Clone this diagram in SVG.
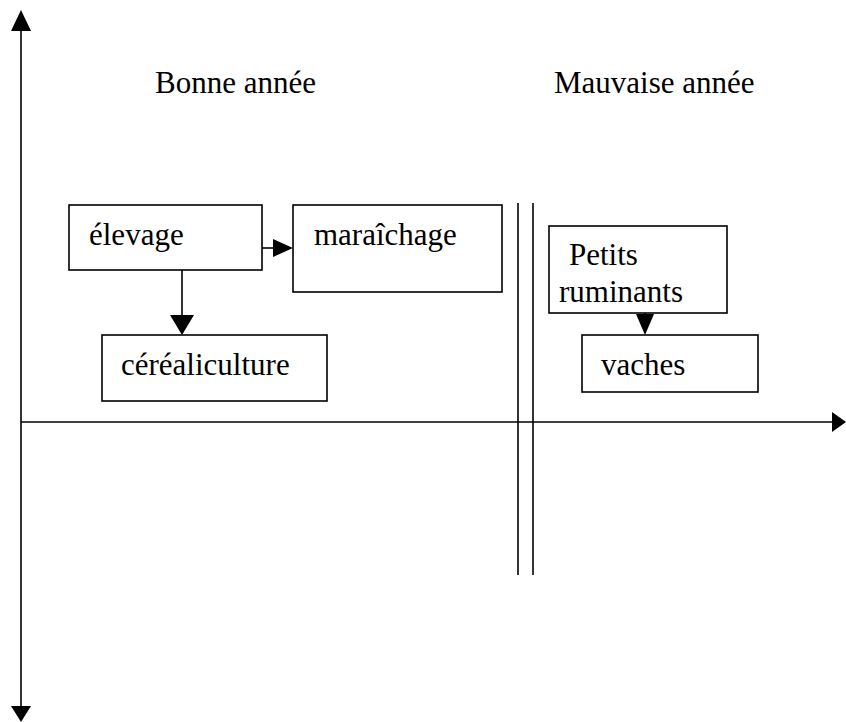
<svg xmlns="http://www.w3.org/2000/svg" width="846" height="722" viewBox="0 0 846 722">
<style>
.box{fill:#fff;stroke:#000;stroke-width:1.6}
.ln{stroke:#000;stroke-width:1.6;fill:none}
.ah{fill:#000}
text{font-family:"Liberation Serif","Times New Roman",serif;font-size:31px;fill:#000}
</style>
<rect width="846" height="722" fill="#fff"/>
<g id="axes">
<line class="ln" x1="21" y1="28" x2="21" y2="708"/>
<polygon class="ah" points="21,10 11,31 31,31"/>
<polygon class="ah" points="21,722 11,706 31,706"/>
<line class="ln" x1="21" y1="422" x2="834" y2="422"/>
<polygon class="ah" points="846,422 832,412 832,432"/>
<line class="ln" x1="518" y1="203" x2="518" y2="575"/>
<line class="ln" x1="533" y1="203" x2="533" y2="575"/>
</g>
<g id="labels">
<text x="155" y="93">Bonne année</text>
<text x="554" y="93">Mauvaise année</text>
</g>
<g id="connectors">
<line class="ln" x1="262" y1="248" x2="275" y2="248"/>
<polygon class="ah" points="293,248 273,239 273,257"/>
<line class="ln" x1="182" y1="270" x2="182" y2="317"/>
<polygon class="ah" points="182,335 170,315 194,315"/>
<line class="ln" x1="645" y1="312" x2="645" y2="316"/>
<polygon class="ah" points="645,335 636,314 654,314"/>
</g>
<g id="elevage">
<rect class="box" x="69" y="205" width="193" height="65"/>
<text x="89" y="245">élevage</text>
</g>
<g id="maraichage">
<rect class="box" x="293" y="205" width="209" height="87"/>
<text x="314" y="245">maraîchage</text>
</g>
<g id="cerealiculture">
<rect class="box" x="102" y="335" width="225" height="66"/>
<text x="121" y="375">céréaliculture</text>
</g>
<g id="petits-ruminants">
<rect class="box" x="549" y="226" width="178" height="87"/>
<text x="569" y="265">Petits</text>
<text x="559" y="302">ruminants</text>
</g>
<g id="vaches">
<rect class="box" x="582" y="335" width="176" height="57"/>
<text x="601" y="375">vaches</text>
</g>
</svg>
